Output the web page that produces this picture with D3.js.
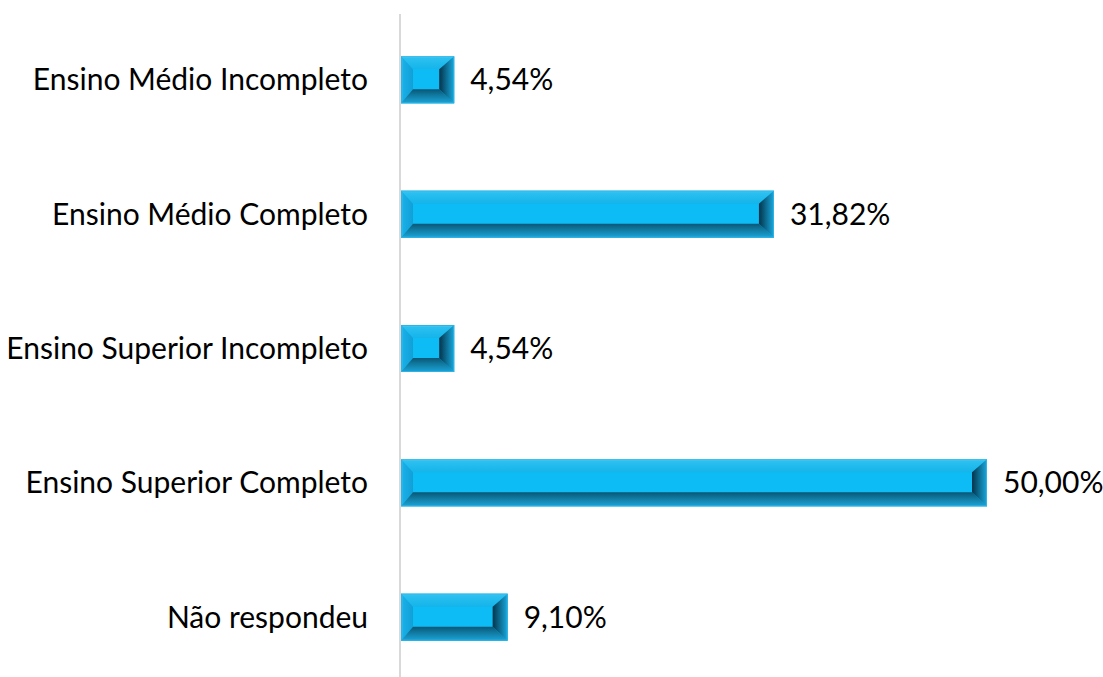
<!DOCTYPE html>
<html>
<head>
<meta charset="utf-8">
<script src="https://cdn.jsdelivr.net/npm/d3@7"></script>
<style>
  html, body { margin: 0; padding: 0; background: #fff; }
  svg { display: block; }
</style>
</head>
<body>
<svg id="chart"></svg>
<script>
// Chart data
const categories = [
    'Ensino Médio Incompleto',
    'Ensino Médio Completo',
    'Ensino Superior Incompleto',
    'Ensino Superior Completo',
    'Não respondeu'
];
const values = [4.54, 31.82, 4.54, 50.00, 9.10];
const valueLabels = ['4,54%', '31,82%', '4,54%', '50,00%', '9,10%'];

const width = 1103;
const height = 677;
const margin = { top: 12, right: 116, bottom: -8, left: 401 };
const innerW = width - margin.left - margin.right;
const innerH = height - margin.top - margin.bottom;

const svg = d3.select('#chart')
    .attr('width', width)
    .attr('height', height);

const defs = svg.append('defs');

// gradients for the bevel sides
function grad(id, x2, y2, stops) {
    const g = defs.append('linearGradient')
        .attr('id', id)
        .attr('x1', 0).attr('y1', 0)
        .attr('x2', x2).attr('y2', y2);
    stops.forEach(([o, c]) => g.append('stop').attr('offset', o).attr('stop-color', c));
}
grad('bevTop', 0, 1, [[0, '#6cd8f8'], [0.15, '#2cc0f0'], [1, '#14b4ea']]);
grad('bevLeft', 1, 0, [[0, '#3cc4f2'], [0.2, '#18aee6'], [1, '#129fd6']]);
grad('bevBottom', 0, 1, [[0, '#0a5676'], [0.35, '#0f7499'], [1, '#1ca4d8']]);
grad('bevRight', 1, 0, [[0, '#04334a'], [0.4, '#0b6386'], [1, '#1aa8dd']]);

const g = svg.append('g')
    .attr('transform', `translate(${margin.left},${margin.top})`);

// Scales
const xScale = d3.scaleLinear().domain([0, 50]).range([0, 586]);
const yScale = d3.scaleBand().domain(categories).range([0, innerH]).paddingInner(0.65).paddingOuter(0.33);

// Axis line (category axis)
g.append('line')
    .attr('x1', -1).attr('x2', -1)
    .attr('y1', 2).attr('y2', height - margin.top)
    .attr('stroke', '#d9d9d9')
    .attr('stroke-width', 2);

// Bars with bevel
const bars = g.selectAll('g.bar')
    .data(categories)
    .enter()
    .append('g')
    .attr('class', 'bar');

bars.each(function (d, i) {
    const x0 = xScale(0);
    const x1 = xScale(values[i]);
    const y0 = yScale(d);
    const y1 = y0 + yScale.bandwidth();
    const bx = Math.min(12, (x1 - x0) / 4);
    const bxr = Math.min(15, (x1 - x0) / 3.3);
    const bt = 13;
    const bb = 14;
    const sel = d3.select(this);

    sel.append('rect')
        .attr('x', x0).attr('y', y0)
        .attr('width', x1 - x0).attr('height', y1 - y0)
        .attr('fill', '#0dbcf4');

    const pts = (arr) => arr.map(p => p.join(',')).join(' ');
    // top
    sel.append('polygon')
        .attr('points', pts([[x0, y0], [x1, y0], [x1 - bxr, y0 + bt], [x0 + bx, y0 + bt]]))
        .attr('fill', 'url(#bevTop)');
    // left
    sel.append('polygon')
        .attr('points', pts([[x0, y0], [x0 + bx, y0 + bt], [x0 + bx, y1 - bb], [x0, y1]]))
        .attr('fill', 'url(#bevLeft)');
    // bottom
    sel.append('polygon')
        .attr('points', pts([[x0 + bx, y1 - bb], [x1 - bxr, y1 - bb], [x1, y1], [x0, y1]]))
        .attr('fill', 'url(#bevBottom)');
    // right
    sel.append('polygon')
        .attr('points', pts([[x1 - bxr, y0 + bt], [x1, y0], [x1, y1], [x1 - bxr, y1 - bb]]))
        .attr('fill', 'url(#bevRight)');
    // thin outline
    sel.append('rect')
        .attr('x', x0 + 0.5).attr('y', y0 + 0.5)
        .attr('width', x1 - x0 - 1).attr('height', y1 - y0 - 1)
        .attr('fill', 'none')
        .attr('stroke', '#2cb4e6')
        .attr('stroke-width', 1);
});

// Category labels
g.selectAll('text.cat')
    .data(categories)
    .enter()
    .append('text')
    .attr('class', 'cat')
    .attr('x', -33)
    .attr('y', (d) => yScale(d) + yScale.bandwidth() / 2)
    .attr('dy', '0.35em')
    .attr('text-anchor', 'end')
    .style('font-family', 'Lato, "Open Sans", sans-serif')
    .style('font-size', '30px')
    .style('fill', '#000')
    .text((d) => d);

// Value labels
g.selectAll('text.val')
    .data(categories)
    .enter()
    .append('text')
    .attr('class', 'val')
    .attr('x', (d, i) => xScale(values[i]) + 16)
    .attr('y', (d) => yScale(d) + yScale.bandwidth() / 2)
    .attr('dy', '0.35em')
    .style('font-family', 'Lato, "Open Sans", sans-serif')
    .style('font-size', '30px')
    .style('fill', '#000')
    .text((d, i) => valueLabels[i]);
</script>
</body>
</html>
